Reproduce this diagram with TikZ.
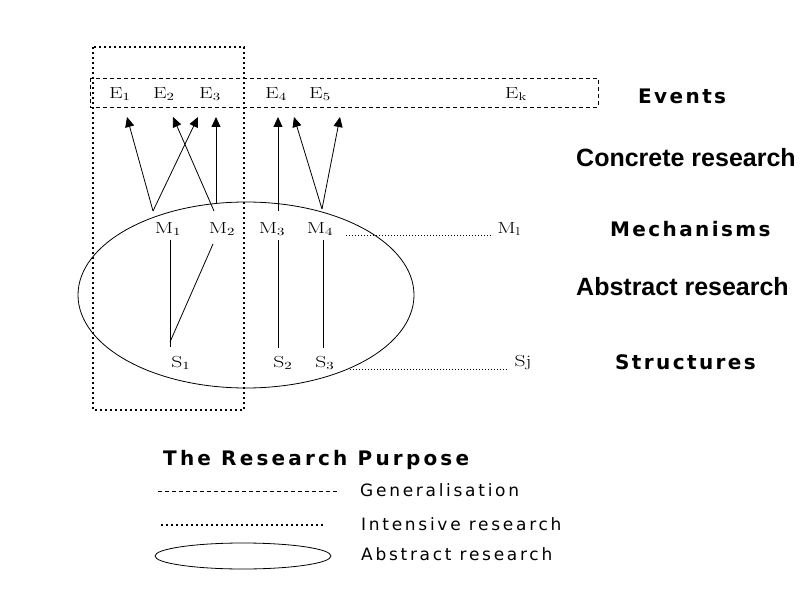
\documentclass[tikz,border=0pt]{standalone}
\usepackage{fontspec}
\usetikzlibrary{arrows.meta}
\newfontfamily\vbold{DejaVu Sans Bold}[LetterSpace=12]
\newfontfamily\vboldw{DejaVu Sans Bold}[LetterSpace=16]
\newfontfamily\vreg{DejaVu Sans}[LetterSpace=16]
\newfontfamily\arialf{Liberation Sans}
\newcommand{\wide}[1]{\scalebox{1.35}[1]{#1}}
\begin{document}
\begin{tikzpicture}[x=1pt,y=-1pt,
  lbl/.style={inner sep=0pt,font=\fontsize{16}{16}\selectfont},
  side/.style={inner sep=0pt,anchor=west,font=\vbold\fontsize{20}{20}\selectfont},
  big/.style={inner sep=0pt,anchor=west,font=\arialf\bfseries\fontsize{25}{25}\selectfont},
  legtxt/.style={inner sep=0pt,anchor=west,font=\vreg\fontsize{17}{17}\selectfont},
  arr/.style={line width=0.8pt,-{Triangle[length=10pt,width=9pt]}},
  ln/.style={line width=0.8pt},
  intensive/.style={line width=2.4pt,dash pattern=on 2.2pt off 2.8pt},
  general/.style={line width=0.8pt,dash pattern=on 4pt off 3pt},
  fine/.style={line width=0.6pt,dash pattern=on 1pt off 2pt}]
\useasboundingbox (0,0) rectangle (809,591);
\fill[white] (0,0) rectangle (809,591);

% events box and intensive box
\draw[general] (90,78) rectangle (598,107);
\draw[intensive] (93,47) rectangle (244,410);
% ellipse
\draw[line width=0.8pt] (246,295) ellipse [x radius=168pt, y radius=93pt];

% events
\node[lbl] (e1) at (120,94) {\wide{E$_1$}};
\node[lbl] (e2) at (164,94) {\wide{E$_2$}};
\node[lbl] (e3) at (210,94) {\wide{E$_3$}};
\node[lbl] (e4) at (276,94) {\wide{E$_4$}};
\node[lbl] (e5) at (320,94) {\wide{E$_5$}};
\node[lbl] (ek) at (516,94) {\wide{E$_{\mathrm{k}}$}};

% mechanisms
\node[lbl] (m1) at (168,229) {\wide{M$_1$}};
\node[lbl] (m2) at (222,229) {\wide{M$_2$}};
\node[lbl] (m3) at (272,229) {\wide{M$_3$}};
\node[lbl] (m4) at (320,229) {\wide{M$_4$}};
\node[lbl] (ml) at (509,229) {\wide{M$_{\mathrm{l}}$}};

% structures
\node[lbl] (s1) at (181,363) {\wide{S$_1$}};
\node[lbl] (s2) at (283,363) {\wide{S$_2$}};
\node[lbl] (s3) at (325,363) {\wide{S$_3$}};
\node[lbl] (sj) at (523,363) {\wide{Sj}};

% apex / tip coordinates
\coordinate (a1) at (153,211);
\coordinate (a2) at (214,211);
\coordinate (a2v) at (216,203);
\coordinate (a3) at (278,211);
\coordinate (a4) at (322,209);
\coordinate (t1) at (127,117);
\coordinate (t2) at (173,117);
\coordinate (t3) at (198,117);
\coordinate (t4) at (216,117);
\coordinate (t5) at (278,117);
\coordinate (t6) at (294,117);
\coordinate (t7) at (340,117);

\draw[arr] (a1) -- (t1);
\draw[arr] (a1) -- (t3);
\draw[arr] (a2) -- (t2);
\draw[arr] (a2v) -- (t4);
\draw[arr] (a3) -- (t5);
\draw[arr] (a4) -- (t6);
\draw[arr] (a4) -- (t7);

% M -> S lines
\coordinate (b1) at (170,240);
\coordinate (b2) at (213,244);
\coordinate (b3) at (278,240);
\coordinate (b4) at (323,240);
\coordinate (c1) at (170,347);
\coordinate (c2) at (170,342);
\coordinate (c3) at (278,348);
\coordinate (c4) at (323,348);
\draw[ln] (b1) -- (c1);
\draw[ln] (b2) -- (c2);
\draw[ln] (b3) -- (c3);
\draw[ln] (b4) -- (c4);

% dotted generalisation lines
\coordinate (d1) at (346,235);
\coordinate (d2) at (493,235);
\coordinate (d3) at (350,369);
\coordinate (d4) at (509,369);
\draw[fine] (d1) -- (d2);
\draw[fine] (d3) -- (d4);

% side labels
\node[side] (ev) at (638,96) {Events};
\node[big] (cr) at (576,158) {Concrete research};
\node[side] (me) at (610,229) {Mechanisms};
\node[big] (ar) at (576,287) {Abstract research};
\node[side] (st) at (615,362) {Structures};

% legend
\node[side,font=\vboldw\fontsize{20}{20}\selectfont] (rp) at (163,460) {The Research Purpose};
\coordinate (g1) at (158,491);
\coordinate (g2) at (337,491);
\draw[general,line width=0.6pt] (g1) -- (g2);
\node[legtxt] (gt) at (360,490) {Generalisation};
\coordinate (i1) at (161,525);
\coordinate (i2) at (323,525);
\draw[intensive] (i1) -- (i2);
\node[legtxt] (it) at (361,524) {Intensive research};
\draw[line width=0.8pt] (243,556) ellipse [x radius=88pt, y radius=13pt];
\node[legtxt] (at) at (361,554) {Abstract research};
\end{tikzpicture}
\end{document}
